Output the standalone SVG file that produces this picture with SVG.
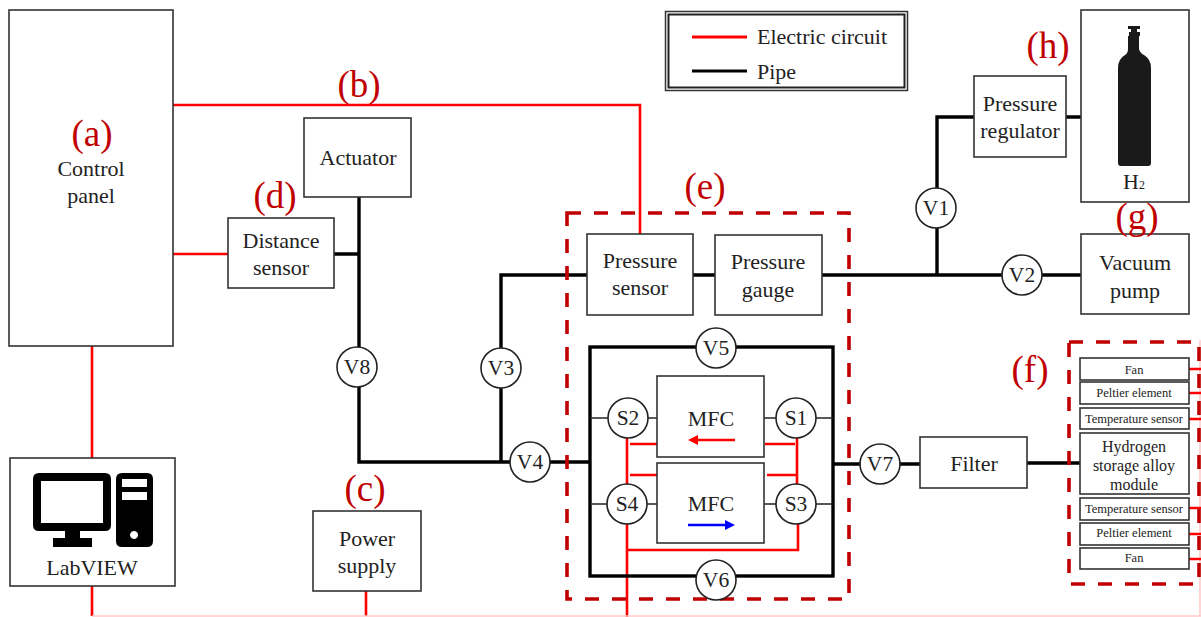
<svg xmlns="http://www.w3.org/2000/svg" width="1201" height="617" viewBox="0 0 1201 617">
<style>
text{font-family:"Liberation Serif","Times New Roman",serif;text-anchor:middle;fill:#222}
.t{font-size:22px}
.v{font-size:21.500px}
.l{font-size:37px;fill:#c00000}
.s{font-size:12.500px}
.m{font-size:16px}
.g{text-anchor:start}
.b{fill:#fff;stroke:#333;stroke-width:1.6}
.c{fill:#fff;stroke:#222;stroke-width:1.6}
.p{fill:none;stroke:#000;stroke-width:3.4}
.n{fill:none;stroke:#222;stroke-width:1.3}
.r{fill:none;stroke:#f00;stroke-width:2.6}
.d{fill:none;stroke:#c00000;stroke-width:3.6;stroke-dasharray:14 13}
</style>
<rect width="1201" height="617" fill="#fff"/>
<g id="connectors">
<path class="r" d="M173 105H640V234M173 254H228M92 346V458M92 586V616M366 591V616M627 438V617"/>
<path d="M92 616H1201M1200 340V616" fill="none" stroke="#ffc8c8" stroke-width="1.5"/>
<path class="r" d="M797 438V484M798 524V550H627M630 444H657M765 444H795M630 475H657M767 475H797"/>
<path class="r" d="M1189 369H1201M1189 393H1201M1189 419H1201M1189 508H1201M1189 534H1201M1189 559H1201"/>
<path class="p" d="M359 197V462H590M334 254H359M501 462V275H587M693 275H715M822 275H1081M937 275V117H974M1066 117H1081M833 464H920M1027 463H1080"/>
<rect x="590" y="347" width="243" height="229" class="p"/>
<path class="n" d="M590 418H657M764 418H833M590 504H657M764 504H833"/>
</g>
<rect class="d" x="567" y="213" width="282" height="386"/>
<rect class="d" x="1069" y="342" width="130" height="242"/>
<g id="legend">
<rect x="665.500" y="11.500" width="242" height="79" fill="#fff" stroke="#333" stroke-width="1.500"/>
<rect x="668.500" y="14.500" width="236" height="73" fill="none" stroke="#222" stroke-width="2"/>
<path d="M692 37H747" stroke="#f00" stroke-width="3.200"/>
<path d="M692 71H747" stroke="#000" stroke-width="3.200"/>
<text class="t g" x="757" y="44">Electric circuit</text>
<text class="t g" x="757" y="79">Pipe</text>
</g>
<g id="control-panel"><rect class="b" x="9" y="10" width="164" height="336"/><text class="t" x="91" y="176">Control</text><text class="t" x="91" y="203">panel</text></g>
<g id="labview"><rect class="b" x="10" y="458" width="165" height="128"/>
<path fill-rule="evenodd" d="M39 473H105Q111 473 111 479V525Q111 531 105 531H80V538H92V547H53V538H65V531H39Q33 531 33 525V479Q33 473 39 473ZM41 481V523H103V481Z"/>
<path fill-rule="evenodd" d="M122 473H147Q153 473 153 479V541Q153 547 147 547H122Q116 547 116 541V479Q116 473 122 473ZM122 479V487H147V479ZM122 492V500H147V492ZM134 531A4 4 0 1 0 134.100 531Z"/>
<text class="t" x="92" y="575">LabVIEW</text></g>
<g id="actuator"><rect class="b" x="304" y="118" width="107" height="79"/><text class="t" x="358" y="165">Actuator</text></g>
<g id="distance-sensor"><rect class="b" x="228" y="218" width="106" height="70"/><text class="t" x="281" y="248">Distance</text><text class="t" x="281" y="275">sensor</text></g>
<g id="power-supply"><rect class="b" x="313" y="511" width="108" height="80"/><text class="t" x="367" y="546">Power</text><text class="t" x="367" y="573">supply</text></g>
<g id="pressure-sensor"><rect class="b" x="587" y="234" width="106" height="81"/><text class="t" x="640" y="268">Pressure</text><text class="t" x="640" y="295">sensor</text></g>
<g id="pressure-gauge"><rect class="b" x="715" y="235" width="107" height="80"/><text class="t" x="768" y="269">Pressure</text><text class="t" x="768" y="297">gauge</text></g>
<g id="pressure-regulator"><rect class="b" x="974" y="76" width="92" height="81"/><text class="t" x="1020" y="111">Pressure</text><text class="t" x="1020" y="138">regulator</text></g>
<g id="h2"><rect class="b" x="1081" y="10" width="108" height="192"/>
<path fill="#1a1a1a" d="M1128 26H1140V29H1137V32H1140V36H1139V42L1139 49Q1140 53 1144 55Q1151 59 1151 68V163Q1151 166 1148 166H1121Q1118 166 1118 163V68Q1118 59 1125 55Q1128 53 1128 49V36H1129V32H1131V29H1128Z"/>
<text class="t" x="1134" y="189">H<tspan style="font-size:12px">2</tspan></text></g>
<g id="vacuum-pump"><rect class="b" x="1081" y="234" width="108" height="80"/><text class="t" x="1135" y="270">Vacuum</text><text class="t" x="1135" y="298">pump</text></g>
<g id="filter"><rect class="b" x="920" y="437" width="107" height="51"/><text class="t" x="974" y="471">Filter</text></g>
<g id="mfc1"><rect class="b" x="657" y="376" width="107" height="81"/><text class="t" x="711" y="426">MFC</text>
<path d="M735 440H696" stroke="#f00" stroke-width="2.600"/><path d="M688 440L698 435V445Z" fill="#f00"/></g>
<g id="mfc2"><rect class="b" x="657" y="463" width="107" height="80"/><text class="t" x="711" y="511">MFC</text>
<path d="M688 525H727" stroke="#00f" stroke-width="2.600"/><path d="M735 525L725 520V530Z" fill="#00f"/></g>
<g id="fan-top"><rect class="b" x="1080" y="358" width="109" height="22"/><text class="s" x="1134" y="374">Fan</text></g>
<g id="peltier-top"><rect class="b" x="1080" y="382" width="109" height="22"/><text class="s" x="1134" y="397">Peltier element</text></g>
<g id="temp-top"><rect class="b" x="1080" y="408" width="109" height="21"/><text class="s" x="1134" y="423">Temperature sensor</text></g>
<g id="module"><rect class="b" x="1080" y="433" width="109" height="61"/><text class="m" x="1134" y="452">Hydrogen</text><text class="m" x="1134" y="471">storage alloy</text><text class="m" x="1134" y="490">module</text></g>
<g id="temp-bottom"><rect class="b" x="1080" y="498" width="109" height="22"/><text class="s" x="1134" y="513">Temperature sensor</text></g>
<g id="peltier-bottom"><rect class="b" x="1080" y="523" width="109" height="22"/><text class="s" x="1134" y="537">Peltier element</text></g>
<g id="fan-bottom"><rect class="b" x="1080" y="548" width="109" height="21"/><text class="s" x="1134" y="562">Fan</text></g>
<g id="v1"><circle class="c" cx="936" cy="208" r="20"/><text class="v" x="936" y="215">V1</text></g>
<g id="v2"><circle class="c" cx="1022" cy="275" r="20"/><text class="v" x="1022" y="282">V2</text></g>
<g id="v3"><circle class="c" cx="501" cy="368" r="20"/><text class="v" x="501" y="375">V3</text></g>
<g id="v4"><circle class="c" cx="530" cy="462" r="20"/><text class="v" x="530" y="469">V4</text></g>
<g id="v5"><circle class="c" cx="716" cy="348" r="20"/><text class="v" x="716" y="355">V5</text></g>
<g id="v6"><circle class="c" cx="716" cy="580" r="20"/><text class="v" x="716" y="587">V6</text></g>
<g id="v7"><circle class="c" cx="880" cy="464" r="20"/><text class="v" x="880" y="471">V7</text></g>
<g id="v8"><circle class="c" cx="357" cy="367" r="20"/><text class="v" x="357" y="374">V8</text></g>
<g id="s1"><circle class="c" cx="796" cy="418" r="20"/><text class="v" x="796" y="425">S1</text></g>
<g id="s2"><circle class="c" cx="628" cy="418" r="20"/><text class="v" x="628" y="425">S2</text></g>
<g id="s3"><circle class="c" cx="796" cy="504" r="20"/><text class="v" x="796" y="511">S3</text></g>
<g id="s4"><circle class="c" cx="627" cy="504" r="20"/><text class="v" x="627" y="511">S4</text></g>
<g id="labels">
<text class="l" x="92" y="146">(a)</text><text class="l" x="359" y="97">(b)</text><text class="l" x="365" y="501">(c)</text><text class="l" x="275" y="208">(d)</text><text class="l" x="705" y="199">(e)</text><text class="l" x="1030" y="382">(f)</text><text class="l" x="1137" y="229">(g)</text><text class="l" x="1048" y="58">(h)</text>
</g>
</svg>
